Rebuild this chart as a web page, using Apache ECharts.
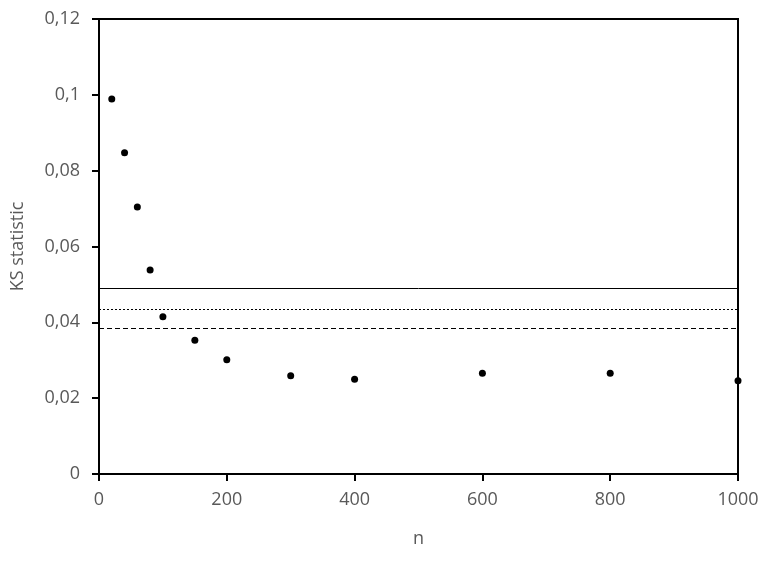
<!DOCTYPE html>
<html>
<head>
<meta charset="utf-8">
<script src="https://cdn.jsdelivr.net/npm/echarts@6/dist/echarts.min.js"></script>
<style>
  html, body { margin: 0; padding: 0; background: #fff; }
  #chart { width: 765px; height: 562px; }
</style>
</head>
<body>
<div id="chart"></div>
<script>
  // sample sizes and KS statistic
  var nValues = [20, 40, 60, 80, 100, 150, 200, 300, 400, 600, 800, 1000]
  var ksValues = [0.0989, 0.0847, 0.0704, 0.0538, 0.0415, 0.0353, 0.0301, 0.0259, 0.0250, 0.0266, 0.0266, 0.0246]
  // horizontal reference levels: solid, dotted, dashed
  var refLevels = [0.0491, 0.0434, 0.0384]
  var refStyles = ['solid', [2, 2], [5, 3]]

  var labelColor = '#595959'
  var fontName = 'Open Sans'
  var fontSize = 18

  function comma(v) {
    return String(+v.toFixed(4)).replace('.', ',')
  }

  var points = nValues.map(function (n, i) { return [n, ksValues[i]] })

  var refLines = refLevels.map(function (v, i) {
    return {
      yAxis: v,
      lineStyle: { color: '#000', width: 1, type: refStyles[i], opacity: 1 }
    }
  })

  var chart = echarts.init(document.getElementById('chart'))
  chart.setOption({
    animation: false,
    grid: {
      left: 99,
      right: 27,
      top: 19,
      bottom: 88,
      show: true,
      borderColor: '#000',
      borderWidth: 2,
      backgroundColor: 'transparent'
    },
    xAxis: {
      type: 'value',
      min: 0,
      max: 1000,
      interval: 200,
      name: 'n',
      nameLocation: 'middle',
      nameGap: 56,
      nameTextStyle: { color: labelColor, fontSize: fontSize, fontFamily: fontName },
      axisLine: { show: true, lineStyle: { color: '#000', width: 2 } },
      axisTick: { show: true, inside: false, length: 7, lineStyle: { color: '#000', width: 2 } },
      axisLabel: { color: labelColor, fontSize: fontSize, fontFamily: fontName, margin: 17, formatter: function (v) { return String(v) } },
      splitLine: { show: false }
    },
    yAxis: {
      type: 'value',
      min: 0,
      max: 0.12,
      interval: 0.02,
      name: 'KS statistic',
      nameLocation: 'middle',
      nameGap: 72,
      nameTextStyle: { color: labelColor, fontSize: fontSize, fontFamily: fontName },
      axisLine: { show: true, lineStyle: { color: '#000', width: 2 } },
      axisTick: { show: true, inside: false, length: 7, lineStyle: { color: '#000', width: 2 } },
      axisLabel: { color: labelColor, fontSize: fontSize, fontFamily: fontName, margin: 19, formatter: comma },
      splitLine: { show: false }
    },
    series: [{
      type: 'scatter',
      data: points,
      symbol: 'circle',
      symbolSize: 7,
      itemStyle: { color: '#000', opacity: 1 },
      markLine: {
        silent: true,
        precision: 4,
        symbol: ['none', 'none'],
        label: { show: false },
        data: refLines
      }
    }]
  })
</script>
</body>
</html>
